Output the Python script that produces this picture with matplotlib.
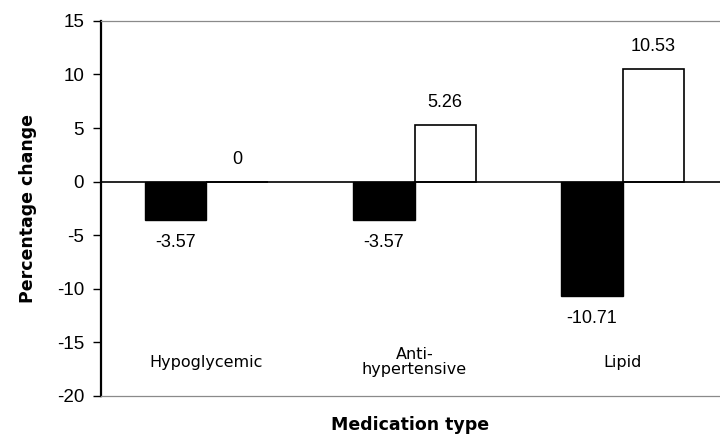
import numpy as np
import matplotlib.pyplot as plt

plt.rcParams["axes.unicode_minus"] = False

# data
categories = ["Hypoglycemic", "Anti-\nhypertensive", "Lipid"]
black_vals = [-3.57, -3.57, -10.71]
white_vals = [0, 5.26, 10.53]
yticks = [-20, -15, -10, -5, 0, 5, 10, 15]

fig = plt.figure(figsize=(7.2, 4.36), dpi=100)
ax = fig.add_axes([0.140, 0.092, 0.862, 0.860])

x = np.arange(len(categories))
w = 0.294
b1 = ax.bar(x - w / 2, black_vals, w, color="black", edgecolor="black", linewidth=1)
b2 = ax.bar(x + w / 2, white_vals, w, color="white", edgecolor="black", linewidth=1.2)

# value labels
for rect, v in zip(list(b1) + list(b2), black_vals + white_vals):
    cx = rect.get_x() + rect.get_width() / 2
    if v < 0:
        ax.annotate(f"{v:g}", (cx, v), xytext=(0, -10), textcoords="offset points",
                    ha="center", va="top", fontsize=13, family="Liberation Sans")
    else:
        ax.annotate(f"{v:g}", (cx, v), xytext=(0, 10), textcoords="offset points",
                    ha="center", va="bottom", fontsize=13, family="Liberation Sans")

# category names inside the plot
for xi, name in zip(x, categories):
    ax.text(xi, -16.85, name, ha="center", va="center", fontsize=11.5,
            family="DejaVu Sans", linespacing=0.95)

ax.axhline(0, color="black", linewidth=1.2)
ax.set_ylim(-20, 15)
ax.set_xlim(-0.508, 2.475)
ax.set_yticks(yticks)
ax.set_xticks([])
for lab in ax.get_yticklabels():
    lab.set_family("Liberation Sans")
    lab.set_fontsize(13.5)
ax.tick_params(axis="y", direction="out", length=6, width=1, pad=6)

ax.spines["left"].set_linewidth(1.6)
ax.spines["right"].set_visible(False)
ax.spines["top"].set_color("#8a8a8a")
ax.spines["top"].set_linewidth(0.9)
ax.spines["bottom"].set_color("#8a8a8a")
ax.spines["bottom"].set_linewidth(0.9)

ax.set_ylabel("Percentage change", fontsize=12.5, fontweight="bold", labelpad=14)
fig.text(0.570, 0.025, "Medication type", ha="center", va="center",
         fontsize=12.5, fontweight="bold")

fig.savefig("out.png", dpi=100)
